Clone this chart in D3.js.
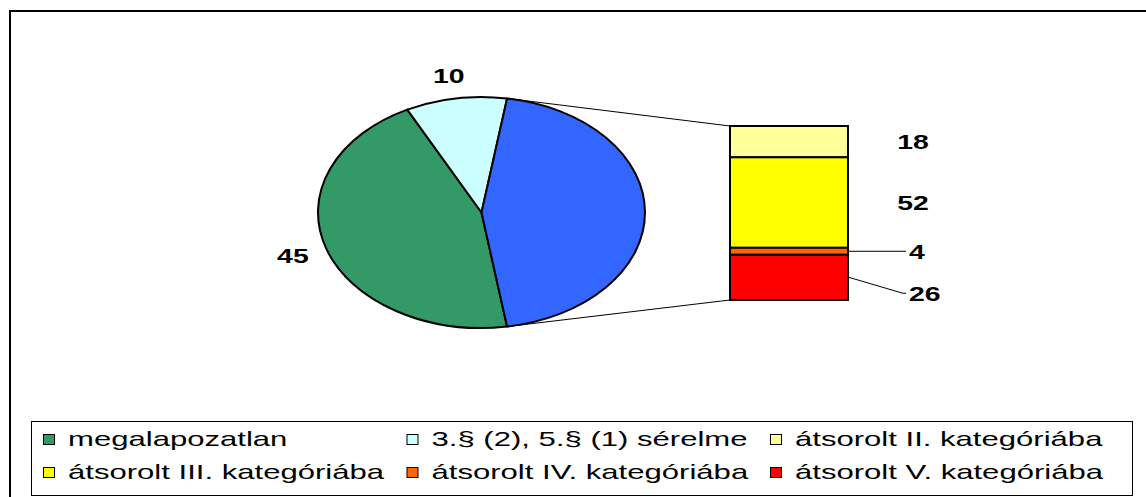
<!DOCTYPE html>
<meta charset="utf-8">
<style>
    body { margin: 0; background: #fff; }
    svg { display: block; }
    text { font-family: Arial, "Liberation Sans", sans-serif; fill: #000; }
    .lbl { font-size: 20px; font-weight: bold; }
    .leg { font-size: 21px; }
</style>
<body>
<script src="https://d3js.org/d3.v7.min.js"></script>
<script>
    // pie data: first two slices shown, the rest ("other") is broken out into the bar
    var pieLabels = ["megalapozatlan", "3.§ (2), 5.§ (1) sérelme"];
    var pieValues = [45, 10];
    var otherValue = 45;

    // bar data, listed top to bottom
    var barLabels = ["átsorolt II. kategóriába", "átsorolt III. kategóriába",
        "átsorolt IV. kategóriába", "átsorolt V. kategóriába"];
    var barValues = [18, 52, 4, 26];

    var pieColors = ["#339966", "#CCFFFF"];
    var otherColor = "#3366FF";
    var barColors = ["#FFFF99", "#FFFF00", "#FF6600", "#FF0000"];

    var width = 1146, height = 497;
    var sx = 1.42;   // the picture is stretched horizontally

    var svg = d3.select("body").append("svg")
        .attr("width", width)
        .attr("height", height);

    // outer frame (runs off the right and bottom)
    svg.append("rect")
        .attr("x", 10).attr("y", 11)
        .attr("width", width + 20).attr("height", height + 20)
        .attr("fill", "none").attr("stroke", "#000").attr("stroke-width", 2);

    /* ------- PIE -------*/
    var cx = 481.5, cy = 212.5, ry = 115.5, rx = 163.5;
    var total = d3.sum(pieValues) + otherValue;
    var otherAngle = 2 * Math.PI * otherValue / total;
    // "other" slice centred at 3 o'clock
    var start = Math.PI / 2 + otherAngle / 2;

    var pieData = pieValues.map(function (v, i) {
        return { label: pieLabels[i], value: v, color: pieColors[i], show: true };
    });
    pieData.push({ label: "other", value: otherValue, color: otherColor, show: false });

    var pie = d3.pie().sort(null).value(function (d) { return d.value; })
        .startAngle(start).endAngle(start + 2 * Math.PI);
    var arcs = pie(pieData);

    var arc = d3.arc().innerRadius(0).outerRadius(ry);

    var pg = svg.append("g")
        .attr("transform", "translate(" + cx + "," + cy + ") scale(" + (rx / ry) + ",1)");
    pg.selectAll("path")
        .data(arcs)
        .enter().append("path")
        .attr("d", arc)
        .attr("fill", function (d) { return d.data.color; })
        .attr("stroke", "#000")
        .attr("stroke-width", 2)
        .attr("stroke-linejoin", "round")
        .attr("vector-effect", "non-scaling-stroke");

    function ellipsePt(a, k) {
        return [cx + rx * k * Math.sin(a), cy - ry * k * Math.cos(a)];
    }

    arcs.filter(function (d) { return d.data.show; }).forEach(function (d) {
        var p = ellipsePt((d.startAngle + d.endAngle) / 2, 1.2);
        svg.append("text")
            .attr("class", "lbl")
            .attr("text-anchor", "middle")
            .attr("transform", "translate(" + (p[0] - 2) + "," + (p[1] + 7.5) + ") scale(" + sx + ",1)")
            .text(d.data.value);
    });

    /* ------- BAR -------*/
    var barX = 730, barW = 118, barTop = 126, barBottom = 300;
    var y = d3.scaleLinear().domain([0, d3.sum(barValues)]).range([barTop, barBottom]);

    var cum = 0;
    var segs = barValues.map(function (v, i) {
        var s = { value: v, label: barLabels[i], color: barColors[i], y0: cum, y1: cum + v };
        cum += v;
        return s;
    });

    // connector lines from the "other" slice to the bar
    var other = arcs[arcs.length - 1];
    var pTop = ellipsePt(other.startAngle, 1), pBot = ellipsePt(other.endAngle, 1);
    svg.append("line")
        .attr("x1", pTop[0]).attr("y1", pTop[1])
        .attr("x2", barX).attr("y2", y(0))
        .attr("stroke", "#000").attr("stroke-width", 1);
    svg.append("line")
        .attr("x1", pBot[0]).attr("y1", pBot[1])
        .attr("x2", barX).attr("y2", y(cum))
        .attr("stroke", "#000").attr("stroke-width", 1);

    svg.append("g").selectAll("rect")
        .data(segs)
        .enter().append("rect")
        .attr("x", barX)
        .attr("y", function (d) { return y(d.y0); })
        .attr("width", barW)
        .attr("height", function (d) { return y(d.y1) - y(d.y0); })
        .attr("fill", function (d) { return d.color; })
        .attr("stroke", "#000")
        .attr("stroke-width", 2);

    // bar labels, pushed down when they collide
    var minGap = 42, lastY = -1e9;
    segs.forEach(function (d) {
        var mid = (y(d.y0) + y(d.y1)) / 2;
        var ly = Math.max(mid, lastY + minGap);
        lastY = ly;
        var needLine = (y(d.y1) - y(d.y0)) < 20 || ly > mid + 1;
        if (needLine) {
            svg.append("polyline")
                .attr("points", [[barX + barW + 1, mid], [903, ly], [906, ly]].join(" "))
                .attr("fill", "none").attr("stroke", "#000").attr("stroke-width", 1);
            svg.append("text")
                .attr("class", "lbl")
                .attr("transform", "translate(909," + (ly + 7.5) + ") scale(" + sx + ",1)")
                .text(d.value);
        } else {
            svg.append("text")
                .attr("class", "lbl")
                .attr("text-anchor", "middle")
                .attr("transform", "translate(913," + (ly + 7.5) + ") scale(" + sx + ",1)")
                .text(d.value);
        }
    });

    /* ------- LEGEND -------*/
    var legLeft = 31, legTop = 421, legW = 1101, legH = 74;
    svg.append("rect")
        .attr("x", legLeft + 0.5).attr("y", legTop + 0.5)
        .attr("width", legW).attr("height", legH)
        .attr("fill", "#fff").attr("stroke", "#000").attr("stroke-width", 1);

    var legItems = pieData.filter(function (d) { return d.show; })
        .concat(segs.map(function (d) { return { label: d.label, color: d.color }; }));
    var nCols = 3;
    var colW = 363.5;
    var legRows = [446, 479];

    legItems.forEach(function (d, i) {
        var row = Math.floor(i / nCols), col = i % nCols;
        var g = svg.append("g")
            .attr("transform", "translate(" + (legLeft + 12 + col * colW) + "," + legRows[row] + ")");
        g.append("rect")
            .attr("x", 0.5).attr("y", -11.5)
            .attr("width", 11).attr("height", 10)
            .attr("fill", d.color).attr("stroke", "#000").attr("stroke-width", 1);
        g.append("text")
            .attr("class", "leg")
            .attr("transform", "translate(25,0) scale(1.48,1)")
            .text(d.label);
    });
</script>
</body>
